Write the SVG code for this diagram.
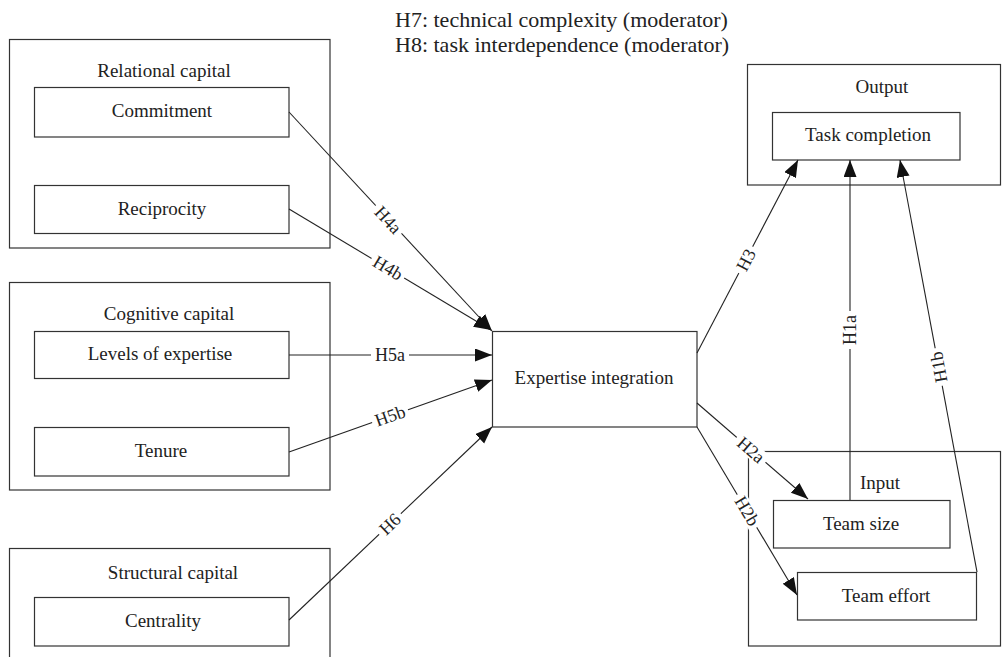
<svg xmlns="http://www.w3.org/2000/svg" width="1002" height="657" viewBox="0 0 1002 657">
<style>
.box{fill:#fff;stroke:#333;stroke-width:1.2}
.grp{fill:none;stroke:#333;stroke-width:1.2}
.t{font-family:"Liberation Serif","Times New Roman",serif;font-size:19px;fill:#222;text-anchor:middle}
.top{font-family:"Liberation Serif","Times New Roman",serif;font-size:22px;fill:#222}
.edge{fill:none;stroke:#222;stroke-width:1.1}
.lbl{font-family:"Liberation Serif","Times New Roman",serif;font-size:18px;fill:#222;text-anchor:middle}
.lb{fill:#fff;stroke:none}
</style>
<defs>
<marker id="arr" markerUnits="userSpaceOnUse" markerWidth="18" markerHeight="14" refX="17" refY="6.5" orient="auto">
<path d="M0,0 L17,6.5 L0,13 z" fill="#111"/>
</marker>
</defs>
<rect width="1002" height="657" fill="#fff"/>

<g id="moderators">
<text class="top" x="395" y="27">H7: technical complexity (moderator)</text>
<text class="top" x="395" y="52">H8: task interdependence (moderator)</text>
</g>

<g id="relational-capital">
<rect class="grp" x="9.5" y="39.5" width="320.5" height="208.5"/>
<text class="t" x="164" y="77">Relational capital</text>
</g>
<g id="commitment">
<rect class="box" x="34.5" y="87.5" width="254.5" height="49.5"/>
<text class="t" x="162" y="117">Commitment</text>
</g>
<g id="reciprocity">
<rect class="box" x="34.5" y="185.5" width="254.5" height="48"/>
<text class="t" x="162" y="215">Reciprocity</text>
</g>

<g id="cognitive-capital">
<rect class="grp" x="9.5" y="282.5" width="320.5" height="207.5"/>
<text class="t" x="169" y="320">Cognitive capital</text>
</g>
<g id="levels-of-expertise">
<rect class="box" x="34.5" y="331.5" width="254.5" height="47"/>
<text class="t" x="160" y="360">Levels of expertise</text>
</g>
<g id="tenure">
<rect class="box" x="34.5" y="427.5" width="254.5" height="48.5"/>
<text class="t" x="161" y="457">Tenure</text>
</g>

<g id="structural-capital">
<rect class="grp" x="9.5" y="548.5" width="320.5" height="130"/>
<text class="t" x="173" y="579">Structural capital</text>
</g>
<g id="centrality">
<rect class="box" x="34.5" y="597.5" width="254.5" height="48.5"/>
<text class="t" x="163" y="627">Centrality</text>
</g>

<g id="expertise-integration">
<rect class="box" x="492.5" y="331.5" width="204.5" height="95.5"/>
<text class="t" x="594" y="384">Expertise integration</text>
</g>

<g id="output">
<rect class="grp" x="747.5" y="64.5" width="253" height="120.5"/>
<text class="t" x="882" y="93">Output</text>
</g>
<g id="task-completion">
<rect class="box" x="772.5" y="112.5" width="187.5" height="47.5"/>
<text class="t" x="868" y="141">Task completion</text>
</g>

<g id="input">
<rect class="grp" x="748.5" y="451.5" width="252" height="194.5"/>
<text class="t" x="880" y="489">Input</text>
</g>
<g id="team-size">
<rect class="box" x="773.5" y="500.5" width="176.5" height="47.5"/>
<text class="t" x="861" y="530">Team size</text>
</g>
<g id="team-effort">
<rect class="box" x="797.5" y="572.5" width="179" height="47.5"/>
<text class="t" x="886" y="602">Team effort</text>
</g>

<g id="connectors">
<line class="edge" x1="289" y1="112" x2="492" y2="331" marker-end="url(#arr)"/>
<line class="edge" x1="289" y1="209" x2="491" y2="330" marker-end="url(#arr)"/>
<line class="edge" x1="289" y1="355" x2="492" y2="355" marker-end="url(#arr)"/>
<line class="edge" x1="289" y1="452" x2="492" y2="380" marker-end="url(#arr)"/>
<line class="edge" x1="289" y1="620" x2="492" y2="427" marker-end="url(#arr)"/>
<line class="edge" x1="697" y1="353" x2="798" y2="160" marker-end="url(#arr)"/>
<line class="edge" x1="697" y1="403" x2="808" y2="499" marker-end="url(#arr)"/>
<line class="edge" x1="697" y1="427" x2="797" y2="595" marker-end="url(#arr)"/>
<line class="edge" x1="850" y1="500" x2="850" y2="160" marker-end="url(#arr)"/>
<line class="edge" x1="977" y1="572" x2="900" y2="160" marker-end="url(#arr)"/>

<g transform="translate(388,220) rotate(47)"><rect class="lb" x="-19" y="-8" width="38" height="16"/><text class="lbl" y="6">H4a</text></g>
<g transform="translate(388,268) rotate(31)"><rect class="lb" x="-19" y="-8" width="38" height="16"/><text class="lbl" y="6">H4b</text></g>
<g transform="translate(390,355)"><rect class="lb" x="-19" y="-8" width="38" height="16"/><text class="lbl" y="6">H5a</text></g>
<g transform="translate(390,416) rotate(-19.5)"><rect class="lb" x="-19" y="-8" width="38" height="16"/><text class="lbl" y="6">H5b</text></g>
<g transform="translate(390,524) rotate(-43.6)"><rect class="lb" x="-15" y="-8" width="30" height="16"/><text class="lbl" y="6">H6</text></g>
<g transform="translate(746,260) rotate(-62.4)"><rect class="lb" x="-15" y="-8" width="30" height="16"/><text class="lbl" y="6">H3</text></g>
<g transform="translate(850,330) rotate(-90)"><rect class="lb" x="-19" y="-8" width="38" height="16"/><text class="lbl" y="6">H1a</text></g>
<g transform="translate(938.7,367) rotate(-100.6)"><rect class="lb" x="-19" y="-8" width="38" height="16"/><text class="lbl" y="6">H1b</text></g>
<g transform="translate(751,450) rotate(40.9)"><rect class="lb" x="-19" y="-8" width="38" height="16"/><text class="lbl" y="6">H2a</text></g>
<g transform="translate(747,511) rotate(59.2)"><rect class="lb" x="-19" y="-8" width="38" height="16"/><text class="lbl" y="6">H2b</text></g>
</g>
</svg>
